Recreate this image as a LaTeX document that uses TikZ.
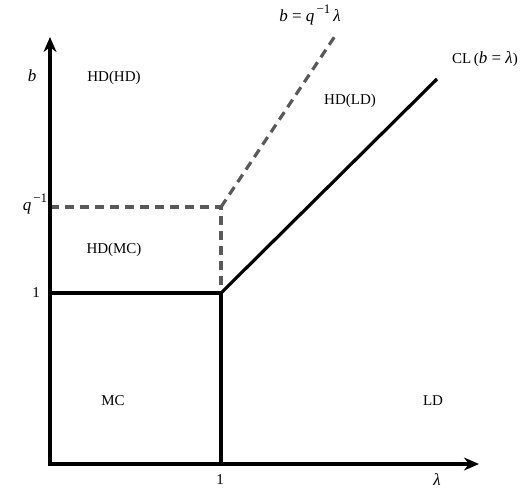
\documentclass[tikz,border=0pt]{standalone}
\usepackage{fontspec}
\setmainfont{Liberation Serif}
\usetikzlibrary{arrows.meta}
\newcommand{\vb}{\textit{b}}
\newcommand{\vl}{\textit{λ}}
\newcommand{\vq}{\textit{q}\raisebox{0.5em}{\fontsize{13}{14}\selectfont\,−1}}
\begin{document}
\begin{tikzpicture}[x=1pt,y=-1pt,
  axis/.style={line width=3.6pt,-{Stealth[length=15pt,width=13pt]}},
  solid line/.style={line width=3.2pt},
  dash line/.style={line width=3.2pt,draw=black!65,dash pattern=on 9pt off 6pt},
  lbl/.style={font=\fontsize{15}{17}\selectfont,inner sep=0pt},
  mlbl/.style={font=\fontsize{17}{19}\selectfont,inner sep=0pt}]
\useasboundingbox (0,0) rectangle (527,491);
\coordinate (O) at (50,464);
\coordinate (Ytip) at (50,37);
\coordinate (Xtip) at (479,464);
\coordinate (P) at (221,293);
\coordinate (Y1) at (50,293);
\coordinate (X1) at (221,464);
\coordinate (Q) at (221,207);
\coordinate (Yq) at (50,207);
\coordinate (Dtop) at (337,33);
\coordinate (Ctop) at (437,79);
\draw[dash line] (Yq) -- (Q) -- (P);
\draw[dash line] (Q) -- (Dtop);
\draw[solid line] (Y1) -- (P) -- (X1);
\draw[solid line] (P) -- (Ctop);
\draw[axis] ([yshift=-1.8pt]O) -- (Ytip);
\draw[axis] ([xshift=-1.8pt]O) -- (Xtip);
\node[mlbl] (lb) at (32,76) {\vb};
\node[mlbl] (lq) at (35,204) {\vq};
\node[lbl] (l1y) at (36,293) {1};
\node[lbl] (l1x) at (220,480) {1};
\node[mlbl] (llam) at (437,480) {\vl};
\node[mlbl] (ldash) at (310,15) {\vb\ = \vq\,\vl};
\node[lbl] (lcl) at (485,59) {CL\,({\fontsize{17}{19}\selectfont\vb\ = \vl})};
\node[lbl] (hdhd) at (114,78) {HD(HD)};
\node[lbl] (hdmc) at (114,250) {HD(MC)};
\node[lbl] (hdld) at (350,101) {HD(LD)};
\node[lbl] (mc) at (113,401) {MC};
\node[lbl] (ld) at (433,401) {LD};
\end{tikzpicture}
\end{document}
